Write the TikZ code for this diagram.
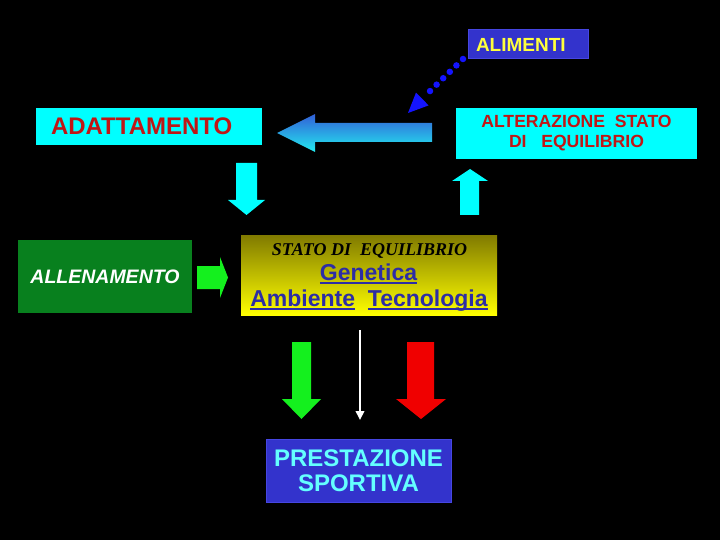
\documentclass[tikz,border=0pt]{standalone}
\usepackage{fontspec}
\setmainfont{Liberation Sans}
\newfontfamily\timesf{Liberation Serif}
\usetikzlibrary{arrows.meta}
\definecolor{cyanbox}{RGB}{0,255,255}
\definecolor{redtxt}{RGB}{192,22,22}
\definecolor{bluebox}{RGB}{51,51,204}
\definecolor{blueedge}{RGB}{70,70,225}
\definecolor{yellowtxt}{RGB}{255,255,60}
\definecolor{greenbox}{RGB}{8,128,30}
\definecolor{lightcyan}{RGB}{100,255,255}
\definecolor{blutxt}{RGB}{45,45,165}
\definecolor{olivetop}{RGB}{128,122,0}
\definecolor{olivemid}{RGB}{222,216,0}
\definecolor{yellowbot}{RGB}{255,255,0}
\definecolor{arrtop}{RGB}{50,95,215}
\definecolor{arrbot}{RGB}{35,235,240}
\definecolor{brightgreen}{RGB}{20,240,30}
\definecolor{brightred}{RGB}{240,0,0}
\definecolor{dotblue}{RGB}{20,20,255}
\newlength\ulwd
\newcommand\ulword[1]{\settowidth\ulwd{#1}\makebox[0pt][l]{\rule[-4pt]{\ulwd}{1.8pt}}#1}
\begin{document}
\begin{tikzpicture}[x=1pt,y=-1pt,
  boxnode/.style={inner sep=0pt, outer sep=0pt},
  dotline/.style={draw=dotblue, line width=6.5pt, line cap=round, dash pattern=on 0pt off 9.2pt}]
\fill[black] (0,0) rectangle (720,540);
\useasboundingbox (0,0) rectangle (720,540);

% ALIMENTI
\node[boxnode, fill=bluebox, draw=blueedge, line width=1pt, minimum width=120pt, minimum height=29pt,
  inner xsep=8pt, text width=104pt, align=left, text=yellowtxt,
  font=\fontsize{19}{19}\selectfont\bfseries] (alim) at (528,44.5) {ALIMENTI};

% ADATTAMENTO
\node[boxnode, fill=cyanbox, minimum width=226pt, minimum height=37pt,
  inner xsep=15pt, text width=196pt, align=left, text=redtxt,
  font=\fontsize{24}{24}\selectfont\bfseries] (adatt) at (149,126.5) {ADATTAMENTO};

% ALTERAZIONE
\node[boxnode, fill=cyanbox, minimum width=241pt, minimum height=51pt,
  align=center, text=redtxt,
  font=\fontsize{17.6}{20}\selectfont\bfseries] (alter) at (576.5,133.5) {ALTERAZIONE~~STATO\\DI~~~EQUILIBRIO};

% ALLENAMENTO
\node[boxnode, fill=greenbox, minimum width=174pt, minimum height=73pt,
  text=white, font=\fontsize{19.5}{19.5}\selectfont\bfseries\itshape] (allen) at (105,276.5) {ALLENAMENTO};

% STATO DI EQUILIBRIO
\node[boxnode, top color=olivetop, middle color=olivemid, bottom color=yellowbot,
  minimum width=256pt, minimum height=80pt] (stato) at (369,275) {};
\node[inner sep=0pt, anchor=base, text=black, font=\timesf\fontsize{18}{18}\selectfont\bfseries\itshape]
  (statot) at (369.5,255) {STATO DI~~EQUILIBRIO};
\node[inner sep=0pt, anchor=base, text=blutxt, font=\fontsize{23}{23}\selectfont\bfseries]
  (gen) at (368.5,280) {\ulword{Genetica}};
\node[inner sep=0pt, anchor=base, text=blutxt, font=\fontsize{23}{23}\selectfont\bfseries]
  (amb) at (369,306) {\ulword{Ambiente}~~\ulword{Tecnologia}};

% PRESTAZIONE SPORTIVA
\node[boxnode, fill=bluebox, draw=blueedge, line width=0.8pt, minimum width=185pt, minimum height=63pt,
  align=center, text=lightcyan, font=\fontsize{24}{25}\selectfont\bfseries] (prest) at (358.5,470.5)
  {PRESTAZIONE\\SPORTIVA};

% dotted arrow ALIMENTI -> big arrow
\coordinate (dstart) at (alim.south west);
\coordinate (dend) at (427,94);
\draw[dotline] ([shift={(-5,0)}]dstart) -- (dend);
\fill[dotblue] (408,113) -- (428.6,105.4) -- (416,92.6) -- cycle;

% big gradient left arrow
\shade[top color=arrtop, bottom color=arrbot]
  (432,123) -- (315,123) -- (315,114) -- (277,133) -- (315,152) -- (315,142) -- (432,142) -- cycle;

% cyan down arrow
\fill[cyanbox] (236,163) -- (257,163) -- (257,200) -- (265,200) -- (246.5,215) -- (228,200) -- (236,200) -- cycle;
% cyan up arrow
\fill[cyanbox] (460,215) -- (479,215) -- (479,181) -- (488,181) -- (470,169) -- (452,181) -- (460,181) -- cycle;

% green right arrow
\fill[brightgreen] (197,266) -- (220,266) -- (220,257) -- (228,277.5) -- (220,298) -- (220,289) -- (197,289) -- cycle;

% green down arrow
\fill[brightgreen] (292,342) -- (311,342) -- (311,399) -- (321,399) -- (301.5,419) -- (282,399) -- (292,399) -- cycle;
% red down arrow
\fill[brightred] (407,342) -- (434,342) -- (434,399) -- (446,399) -- (421,419) -- (396,399) -- (407,399) -- cycle;

% white thin arrow
\coordinate (wtop) at (360,330);
\coordinate (wbot) at (360,420);
\draw[white, line width=2pt, -{Triangle[width=8.5pt,length=9pt]}] (wtop) -- (wbot);
\end{tikzpicture}
\end{document}
